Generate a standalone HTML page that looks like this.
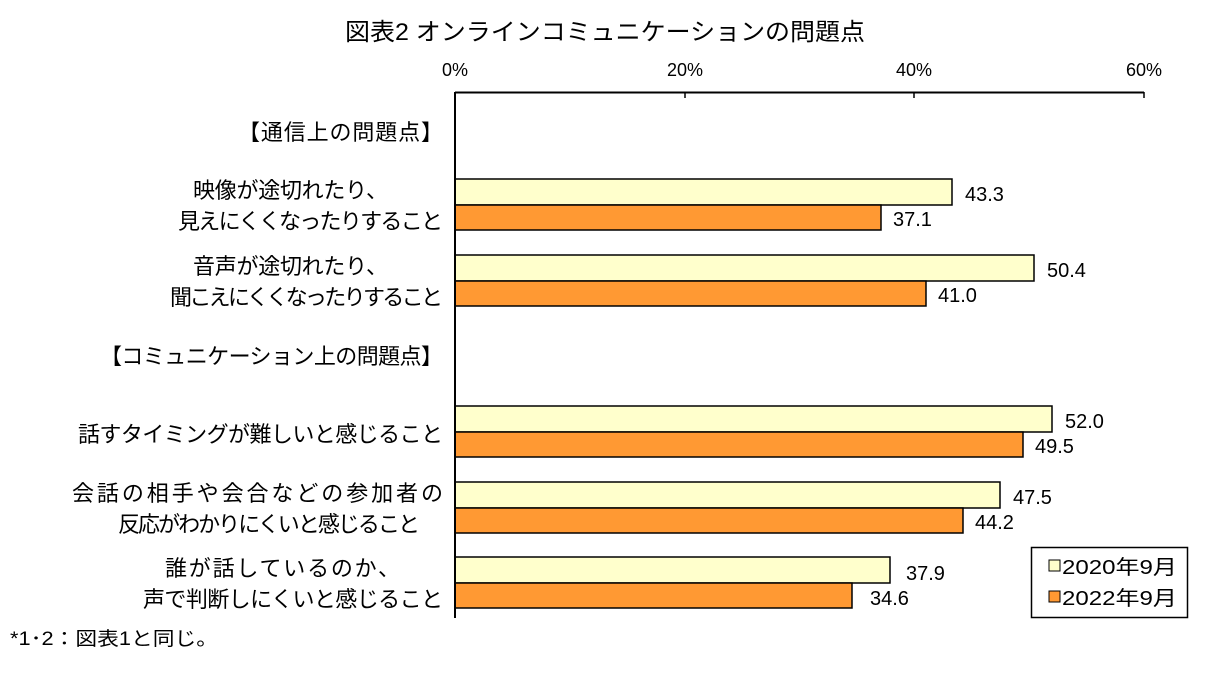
<!DOCTYPE html>
<html><head><meta charset="utf-8"><style>
body{margin:0;background:#fff}
svg text{font-family:"Liberation Sans","Noto Sans CJK JP",sans-serif;fill:#000}
</style></head><body>
<svg width="1210" height="676" xmlns="http://www.w3.org/2000/svg">
<text x="345" y="40" font-size="24" textLength="520" lengthAdjust="spacingAndGlyphs">図表2  オンラインコミュニケーションの問題点</text>
<g font-size="18" text-anchor="middle">
<text x="455" y="76">0%</text><text x="685" y="76">20%</text><text x="914" y="76">40%</text><text x="1144" y="76">60%</text>
</g>
<line x1="455" y1="92.5" x2="1144" y2="92.5" stroke="#000" stroke-width="2"/>
<g stroke="#000" stroke-width="1.5"><line x1="685" y1="92" x2="685" y2="98"/><line x1="914" y1="92" x2="914" y2="98"/><line x1="1144" y1="92" x2="1144" y2="98"/></g>
<g stroke="#000" stroke-width="1.5">
<rect x="455" y="179" width="497" height="26" fill="#ffffcc"/><rect x="455" y="205" width="426" height="25" fill="#ff9933"/>
<rect x="455" y="255" width="579" height="26" fill="#ffffcc"/><rect x="455" y="281" width="471" height="25" fill="#ff9933"/>
<rect x="455" y="406" width="597" height="26" fill="#ffffcc"/><rect x="455" y="432" width="568" height="25" fill="#ff9933"/>
<rect x="455" y="482" width="545" height="26" fill="#ffffcc"/><rect x="455" y="508" width="508" height="25" fill="#ff9933"/>
<rect x="455" y="557" width="435" height="26" fill="#ffffcc"/><rect x="455" y="583" width="397" height="25" fill="#ff9933"/>
</g>
<line x1="455" y1="92" x2="455" y2="618" stroke="#000" stroke-width="2"/>
<g font-size="20">
<text x="965" y="201">43.3</text><text x="893" y="226">37.1</text>
<text x="1047" y="277">50.4</text><text x="938" y="302">41.0</text>
<text x="1065" y="428">52.0</text><text x="1035" y="453">49.5</text>
<text x="1013" y="504">47.5</text><text x="975" y="529">44.2</text>
<text x="906" y="580">37.9</text><text x="870" y="605">34.6</text>
</g>
<g font-size="22" lengthAdjust="spacingAndGlyphs">
<text x="238" y="140" textLength="205">【通信上の問題点】</text>
<text x="193" y="198" textLength="195">映像が途切れたり、</text>
<text x="178" y="229" textLength="265">見えにくくなったりすること</text>
<text x="193" y="274" textLength="195">音声が途切れたり、</text>
<text x="170" y="305" textLength="273">聞こえにくくなったりすること</text>
<text x="100" y="364" textLength="343">【コミュニケーション上の問題点】</text>
<text x="78" y="442" textLength="365">話すタイミングが難しいと感じること</text>
<text x="72" y="501" textLength="371">会話の相手や会合などの参加者の</text>
<text x="118" y="532" textLength="302">反応がわかりにくいと感じること</text>
<text x="165" y="576" textLength="235">誰が話しているのか、</text>
<text x="143" y="607" textLength="300">声で判断しにくいと感じること</text>
</g>
<rect x="1031.5" y="547.5" width="156" height="70" fill="#fff" stroke="#000" stroke-width="1.5"/>
<rect x="1049" y="560" width="11" height="11" fill="#ffffcc" stroke="#000"/>
<rect x="1049" y="591" width="11" height="11" fill="#ff9933" stroke="#000"/>
<g font-size="20"><text x="1062" y="574" textLength="115" lengthAdjust="spacingAndGlyphs">2020年9月</text><text x="1062" y="605" textLength="115" lengthAdjust="spacingAndGlyphs">2022年9月</text></g>
<text x="10" y="645" font-size="19" textLength="208" lengthAdjust="spacingAndGlyphs">*1･2：図表1と同じ。</text>
</svg>
</body></html>
